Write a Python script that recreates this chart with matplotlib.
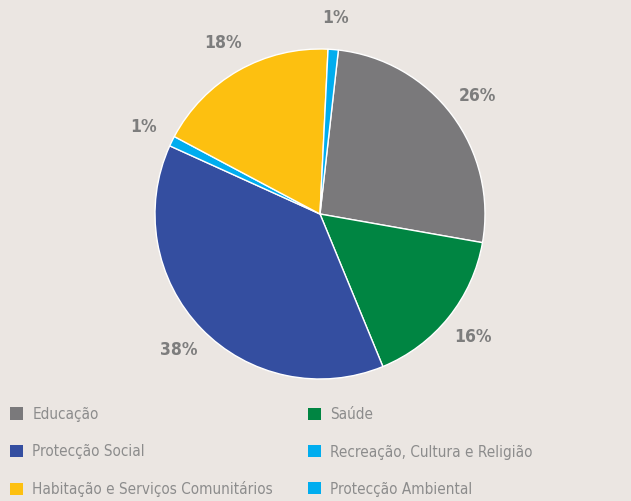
import matplotlib.pyplot as plt

categories = ['Educação', 'Saúde', 'Protecção Social',
              'Recreação, Cultura e Religião',
              'Habitação e Serviços Comunitários', 'Protecção Ambiental']
values = [26, 16, 38, 1, 18, 1]
colors = ['#7a797b', '#008542', '#344ea0', '#00adef', '#fdc010', '#00adef']

plt.rcParams['font.family'] = ['DejaVu Sans']
plt.rcParams['font.stretch'] = 'condensed'

bg = '#ebe6e2'
fig = plt.figure(figsize=(6.31, 5.01), dpi=100, facecolor=bg)

# pie centre ~ (320, 214) px, radius ~165 px
ax = fig.add_axes([(320 - 165) / 631, (501 - 214 - 165) / 501, 330 / 631, 330 / 501])
ax.set_facecolor(bg)
wedges, texts, autotexts = ax.pie(
    values, colors=colors, startangle=83.6, counterclock=False,
    autopct='%1.0f%%', pctdistance=1.19,
    wedgeprops=dict(edgecolor='white', linewidth=1.0),
    textprops=dict(color='#7d7d7d', fontsize=12.5, fontweight='bold'))
ax.set_xlim(-1, 1)
ax.set_ylim(-1, 1)
ax.axis('off')

# legend laid out row by row, two columns
left = [0, 2, 4]
right = [1, 3, 5]
opts = dict(loc='center left', frameon=False, fontsize=11, labelcolor='#8c8c8c',
            handlelength=0.85, handleheight=0.85, handletextpad=0.6,
            labelspacing=1.45, borderpad=0, borderaxespad=0)
leg1 = fig.legend([wedges[i] for i in left], [categories[i] for i in left],
                  bbox_to_anchor=(10 / 631, 1 - 452 / 501), **opts)
leg2 = fig.legend([wedges[i] for i in right], [categories[i] for i in right],
                  bbox_to_anchor=(308 / 631, 1 - 452 / 501), **opts)
for leg in (leg1, leg2):
    for h in leg.legend_handles:
        h.set_edgecolor('none')

fig.savefig('out.png', dpi=100, facecolor=bg)
